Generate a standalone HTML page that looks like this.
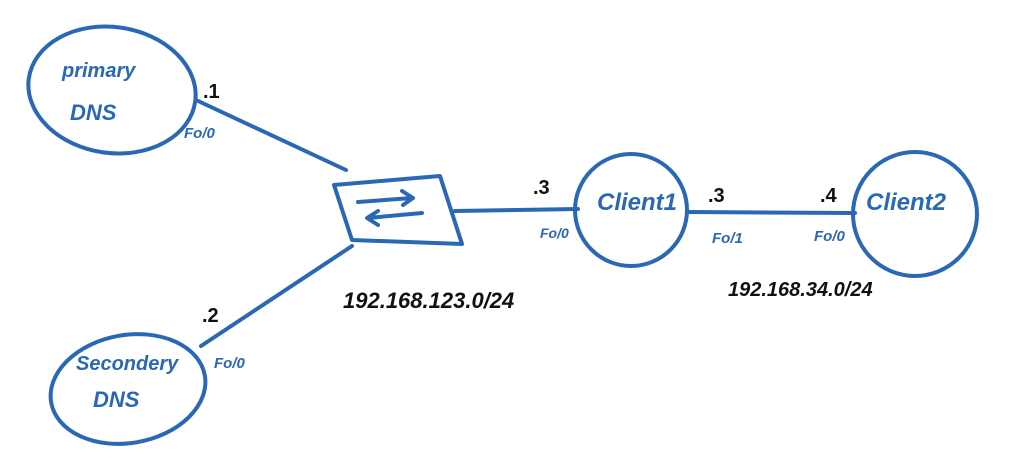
<!DOCTYPE html>
<html><head><meta charset="utf-8"><style>
html,body{margin:0;padding:0;background:#fff;}
svg{display:block}
text{font-family:"Liberation Sans",sans-serif;}
</style></head><body>
<svg width="1023" height="476" viewBox="0 0 1023 476" xmlns="http://www.w3.org/2000/svg">
<g fill="none" stroke="#2a68b5" stroke-width="4" stroke-linecap="round" stroke-linejoin="round">
<ellipse cx="112" cy="90" rx="84" ry="63" transform="rotate(8 112 90)"/>
<ellipse cx="128" cy="389" rx="78" ry="54" transform="rotate(-10 128 389)"/>
<circle cx="631" cy="210" r="56"/>
<circle cx="915" cy="214" r="62"/>
<path d="M334 185 L440 176 L462 244 L352 240 Z"/>
<path d="M196 100 L346 170"/>
<path d="M201 346 L352 246"/>
<path d="M455 211 L578 209"/>
<path d="M688 212 L855 213"/>
<path d="M358 202 L412 198 M402 191 L413 198 L403 205"/>
<path d="M422 213 L368 218 M378 211 L367 218 L378 225"/>
</g>
<g fill="#2a68b5" font-style="italic" font-weight="bold">
<text x="62" y="77" font-size="20">primary</text>
<text x="70" y="120" font-size="22">DNS</text>
<text x="76" y="370" font-size="20">Secondery</text>
<text x="93" y="407" font-size="22">DNS</text>
<text x="597" y="210" font-size="24">Client1</text>
<text x="866" y="210" font-size="24">Client2</text>
<text x="184" y="138" font-size="15">Fo/0</text>
<text x="214" y="368" font-size="15">Fo/0</text>
<text x="540" y="238" font-size="14">Fo/0</text>
<text x="712" y="243" font-size="15">Fo/1</text>
<text x="814" y="241" font-size="15">Fo/0</text>
</g>
<g fill="#111" font-size="20" font-weight="bold">
<text x="203" y="98">.1</text>
<text x="202" y="322">.2</text>
<text x="533" y="194">.3</text>
<text x="708" y="202">.3</text>
<text x="820" y="202">.4</text>
<text x="343" y="308" font-size="22" font-style="italic">192.168.123.0/24</text>
<text x="728" y="296" font-size="20" font-style="italic">192.168.34.0/24</text>
</g>
</svg>
</body></html>
